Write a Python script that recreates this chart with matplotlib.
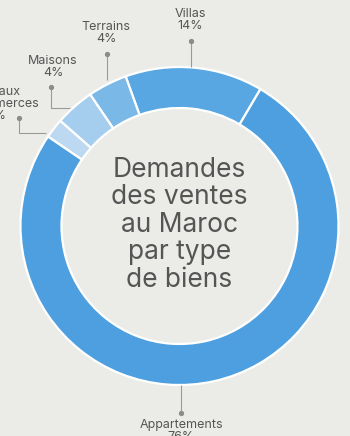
import matplotlib
matplotlib.use("Agg")
import matplotlib.pyplot as plt

# Data
categories = ["Villas", "Terrains", "Maisons", "Bureaux\net commerces", "Appartements"]
values = [14, 4, 4, 2, 76]
pct_labels = ["14%", "4%", "4%", "2%", "76%"]
colors = ["#58a7e3", "#7ab8e8", "#a5cdee", "#bcd9f1", "#4d9fe0"]
title_lines = ["Demandes", "des ventes", "au Maroc", "par type", "de biens"]

plt.rcParams['font.family'] = ['Inter', 'DejaVu Sans']
bg = "#ebebe8"
txt = "#555555"
linec = "#9a9a9a"

fig = plt.figure(figsize=(3.5, 4.36), dpi=100, facecolor=bg)
ax = fig.add_axes([0, 0, 1, 1])
ax.set_facecolor(bg)

H = 436
cx, cy, R, W = 179.5, H - 226, 159, 41
ax.pie(values, colors=colors, startangle=59.4, counterclock=True,
       center=(cx, cy), radius=R, frame=True,
       wedgeprops=dict(width=W, edgecolor="white", linewidth=1.6))
ax.set_xlim(0, 350)
ax.set_ylim(0, 436)
ax.set_aspect('equal')
ax.axis('off')

# center title
ys = [170, 197, 225, 252, 280]
for line, y in zip(title_lines, ys):
    ax.text(cx, H - y, line, ha='center', va='center', fontsize=19, color=txt)

# label layout: (text x, text top y, dot (x,y), path points)
layout = [
    (190, 8, (191, 41), [(191, 41), (191, 67)]),
    (106, 21, (107, 54), [(107, 54), (107, 80)]),
    (53, 55, (51, 87), [(51, 87), (51, 108), (70, 108)]),
    (-4, 86, (19, 118), [(19, 118), (19, 133), (46, 133)]),
    (181, 419, (181, 413), [(181, 385), (181, 413)]),
]
for (name, pct), (tx, ty, dot, path) in zip(zip(categories, pct_labels), layout):
    xs = [p[0] for p in path]
    yv = [H - p[1] for p in path]
    ax.plot(xs, yv, color=linec, lw=0.8, solid_capstyle='butt')
    ax.plot(dot[0], H - dot[1], 'o', color="#8c8c8c", ms=2.8)
    ax.text(tx, H - ty, name + "\n" + pct, ha='center', va='top',
            fontsize=9, color=txt, linespacing=1.0)

fig.savefig("out.png", dpi=100, facecolor=bg)
